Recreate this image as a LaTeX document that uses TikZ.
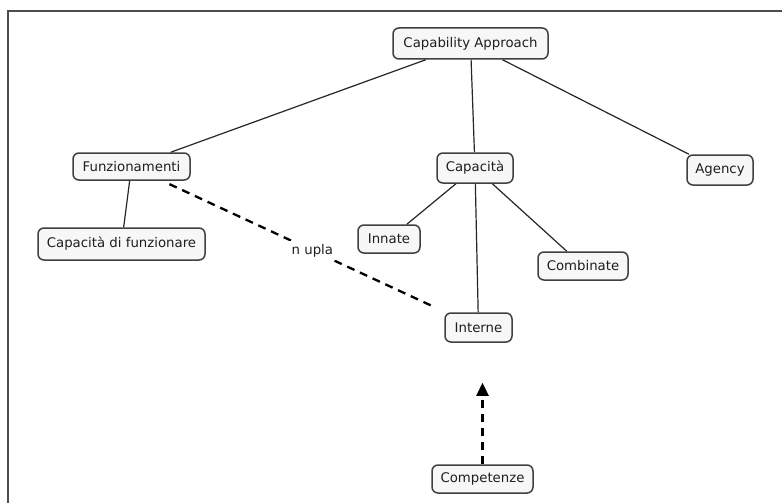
\documentclass[tikz,border=0pt]{standalone}
\usepackage{fontspec}
\setmainfont{DejaVu Sans}
\usetikzlibrary{arrows.meta}
\definecolor{boxline}{HTML}{404040}
\definecolor{boxfill}{HTML}{F7F7F7}
\definecolor{txt}{HTML}{1E1E1E}
\begin{document}
\begin{tikzpicture}[x=1pt,y=-1pt,
  cbox/.style={draw=boxline, line width=1.5pt, fill=boxfill, rounded corners=6pt,
    inner sep=0pt, text=txt, font=\fontsize{13.3}{15}\selectfont},
  link/.style={draw=black!85, line width=1.2pt},
  dlink/.style={draw=black, line width=2.3pt, dash pattern=on 8pt off 6pt}
]
\useasboundingbox (0,0) rectangle (782,503);
\fill[white] (0,0) rectangle (782,503);
% frame
\draw[line width=2.2pt, draw=black!70] (8,503) -- (8,11) -- (782,11);

\node[cbox, minimum width=155pt, minimum height=31pt] (ca) at (470.5,43.5) {Capability Approach};
\node[cbox, minimum width=117pt, minimum height=27pt] (funz) at (131.5,166.5) {Funzionamenti};
\node[cbox, minimum width=167pt, minimum height=32pt] (cdf) at (121.5,244) {Capacità di funzionare};
\node[cbox, minimum width=76pt, minimum height=30pt] (cap) at (475,168) {Capacità};
\node[cbox, minimum width=62pt, minimum height=28pt] (inn) at (389,239) {Innate};
\node[cbox, minimum width=90pt, minimum height=28pt] (comb) at (583,266) {Combinate};
\node[cbox, minimum width=67pt, minimum height=29pt] (int) at (478.5,327.5) {Interne};
\node[cbox, minimum width=66pt, minimum height=30pt] (ag) at (720,170) {Agency};
\node[cbox, minimum width=101pt, minimum height=28pt] (comp) at (482.5,479) {Competenze};

\draw[link] (ca) -- (funz);
\draw[link] (ca) -- (cap);
\draw[link] (ca) -- (ag);
\draw[link] (funz) -- (cdf);
\draw[link] (cap) -- (inn);
\draw[link] (cap) -- (int);
\draw[link] (cap) -- (comb);

\draw[dlink, shorten <=8pt, shorten >=14pt] (funz) -- node[fill=white, inner sep=3pt, text=txt, font=\fontsize{13.3}{15}\selectfont, pos=0.53] (lab) {n upla} (int);

\coordinate (arrend) at (comp.north |- int.south);
\draw[dlink, shorten >=40pt, -{Triangle[width=12pt,length=13pt]}] (comp.north) -- (arrend);
\end{tikzpicture}
\end{document}
